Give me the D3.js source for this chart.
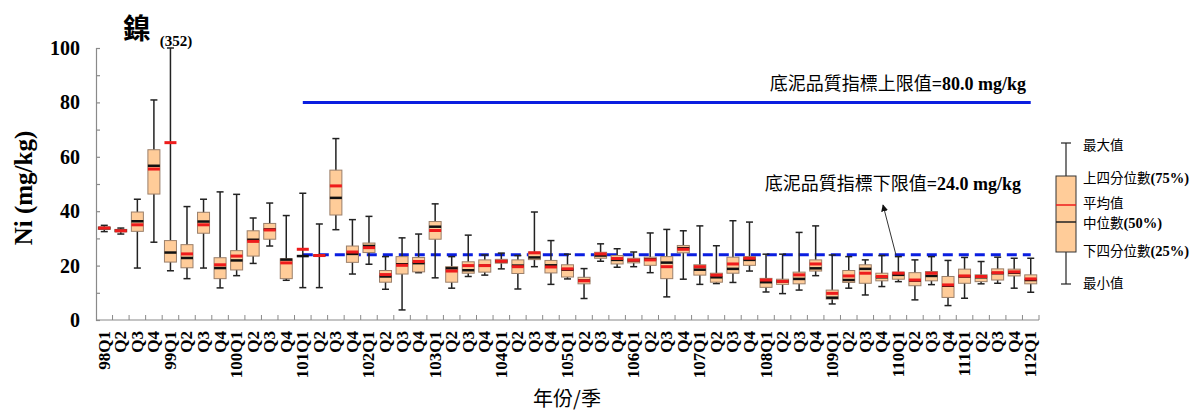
<!DOCTYPE html>
<html><head><meta charset="utf-8">
<script src="https://cdn.jsdelivr.net/npm/d3@7"></script>
<style>
html,body{margin:0;padding:0;background:#fff;}
svg{display:block;}
</style></head>
<body>
<svg id="chart" width="1204" height="413"></svg>
<script>
const quarters = ["98Q1","Q2","Q3","Q4","99Q1","Q2","Q3","Q4","100Q1","Q2","Q3","Q4","101Q1","Q2","Q3","Q4","102Q1","Q2","Q3","Q4","103Q1","Q2","Q3","Q4","104Q1","Q2","Q3","Q4","105Q1","Q2","Q3","Q4","106Q1","Q2","Q3","Q4","107Q1","Q2","Q3","Q4","108Q1","Q2","Q3","Q4","109Q1","Q2","Q3","Q4","110Q1","Q2","Q3","Q4","111Q1","Q2","Q3","Q4","112Q1"];
const mins    = [32.5,31.6,19.1,28.6,18.1,15.2,19.1,11.8,16.3,20.8,27.2,14.6,11.9,11.9,33.2,16.9,20.5,11.3,3.7,17.4,15.5,11.7,16.0,16.5,18.8,11.4,19.6,13.1,15.1,7.9,21.6,19.4,19.6,17.4,8.5,15.0,13.1,13.4,13.8,18.0,10.3,9.7,11.0,16.3,5.9,11.7,9.2,12.3,14.1,7.4,13.0,5.3,8.0,13.3,13.5,11.7,10.2];
const q1s     = [33.3,32.4,32.6,46.3,21.3,19.2,31.9,15.2,18.4,23.5,29.7,15.2,23.3,23.5,38.6,21.2,24.8,13.9,16.9,17.7,29.7,13.9,17.2,17.6,20.9,17.1,22.2,17.3,15.8,13.3,22.7,20.6,21.0,20.1,15.2,24.7,16.5,13.9,17.2,20.1,12.0,13.1,13.3,18.0,7.7,13.8,13.5,14.4,15.0,12.6,14.4,8.3,13.5,14.1,14.7,16.2,13.3];
const medians = [33.8,32.8,36.3,56.7,24.8,22.8,36.2,19.1,21.9,29.5,33.3,22.2,23.5,23.7,44.9,24.3,27.2,16.0,20.5,20.9,34.3,19.0,18.3,20.0,21.6,20.0,23.0,20.1,18.5,14.5,23.7,22.1,21.9,22.3,21.1,26.4,18.5,15.7,18.8,22.1,13.9,14.2,15.1,19.0,8.2,14.7,18.8,15.7,16.6,14.5,16.2,12.6,16.0,15.7,17.2,17.4,14.7];
const q3s     = [34.2,33.3,39.7,62.6,29.2,27.7,39.6,22.9,25.5,32.8,35.5,22.5,23.7,23.9,55.1,27.2,28.3,18.2,23.3,23.0,36.2,19.6,21.4,22.1,22.3,22.1,25.0,21.9,20.3,15.7,24.9,23.7,22.7,23.1,23.3,27.4,20.3,17.2,23.1,23.3,15.3,15.0,17.6,22.1,11.0,18.2,20.3,17.2,17.6,17.4,17.8,16.0,18.7,16.6,18.8,18.7,16.6];
const maxs    = [34.8,33.8,44.4,80.9,352,41.7,44.4,47.1,46.2,37.5,43.0,38.4,46.6,35.3,66.7,36.9,38.1,23.3,30.2,31.6,42.7,23.3,31.2,23.9,24.6,23.7,39.7,29.2,24.2,18.9,28.0,26.2,25.0,32.0,33.3,32.8,34.6,27.3,36.5,36.0,24.2,24.2,32.2,34.6,23.9,23.3,22.1,23.7,23.3,22.1,23.3,21.9,23.0,21.5,23.1,22.7,22.7];
const means   = [33.8,32.8,35.0,55.5,65.2,24.3,35.0,20.3,23.5,28.9,33.1,21.0,26.0,23.7,49.3,25.0,26.6,16.7,20.1,21.5,32.9,18.0,20.0,20.0,21.6,19.6,24.7,19.5,18.8,14.4,24.3,22.6,22.0,22.1,19.6,26.0,19.6,16.5,20.6,22.7,14.7,14.2,16.6,20.6,9.8,16.2,17.2,16.0,17.2,14.7,17.2,12.9,16.2,16.0,17.4,17.7,15.1];
const yTicks = [0,20,40,60,80,100];
const upperLimit = 80.0, lowerLimit = 24.0;
const limitStart = "101Q1";
const legendLabels = ["最大值","上四分位數(75%)","平均值","中位數(50%)","下四分位數(25%)","最小值"];

const svg = d3.select("#chart");
const ids = quarters.map((q,i)=>i);
const x = d3.scaleBand().domain(ids).range([96,1039]).padding(0);
const y = d3.scaleLinear().domain([0,100]).range([320,48]).clamp(true);
const serif = "'Liberation Serif','Times New Roman',serif";
const cjk = "'Noto Sans CJK TC','Noto Sans CJK SC',sans-serif";
const axisColor = "#8a8a8a";
const boxFill = "#FFCC99", boxStroke = "#9a7f6a";

// axes
const yAxis = d3.axisLeft(y).tickValues(d3.range(0,101,10)).tickSize(-4).tickFormat("");
const gy = svg.append("g").attr("transform","translate(96,0)").call(yAxis);
gy.selectAll("path,line").attr("stroke",axisColor).attr("stroke-width",1.2);
svg.append("g").selectAll("text").data(yTicks).join("text")
  .attr("x",80).attr("y",d=>y(d)+7).attr("text-anchor","end")
  .attr("font-family",serif).attr("font-weight","bold").attr("font-size",20)
  .text(d=>d);

const gx = svg.append("g").attr("transform","translate(0,320)");
gx.append("line").attr("x1",96).attr("x2",1039).attr("y1",0).attr("y2",0).attr("stroke",axisColor).attr("stroke-width",1.2);
gx.selectAll("line.t").data(d3.range(1,quarters.length+1)).join("line").attr("class","t")
  .attr("x1",d=>96+d*x.bandwidth()).attr("x2",d=>96+d*x.bandwidth()).attr("y1",0).attr("y2",-5)
  .attr("stroke",axisColor).attr("stroke-width",1);
gx.selectAll("text").data(ids).join("text")
  .attr("transform",d=>`translate(${x(d)+x.bandwidth()/2+5.5},11) rotate(-90)`)
  .attr("text-anchor","end")
  .attr("font-family",serif).attr("font-weight","bold").attr("font-size",17)
  .text(d=>quarters[d]);

// axis titles
svg.append("text").attr("transform","translate(32,188) rotate(-90)").attr("text-anchor","middle")
  .attr("font-family",serif).attr("font-weight","bold").attr("font-size",25).text("Ni (mg/kg)");
svg.append("text").attr("x",567).attr("y",406).attr("text-anchor","middle")
  .attr("font-family",cjk).attr("font-size",20).text("年份/季");
svg.append("text").attr("x",137).attr("y",39).attr("text-anchor","middle")
  .attr("font-family",cjk).attr("font-weight","bold").attr("font-size",28).text("鎳");
svg.append("text").attr("x",176).attr("y",46).attr("text-anchor","middle")
  .attr("font-family",serif).attr("font-weight","bold").attr("font-size",15).text("(352)");

// limit lines
const ls = quarters.indexOf(limitStart);
const lx1 = x(ls)+x.bandwidth()/2, lx2 = x(quarters.length-1)+x.bandwidth()/2;
svg.append("line").attr("x1",lx1).attr("x2",lx2).attr("y1",y(upperLimit)).attr("y2",y(upperLimit))
  .attr("stroke","#0a1ee0").attr("stroke-width",3);
svg.append("line").attr("x1",lx1).attr("x2",lx2).attr("y1",y(lowerLimit)).attr("y2",y(lowerLimit))
  .attr("stroke","#0a1ee0").attr("stroke-width",3).attr("stroke-dasharray","10,6");

function limitText(xr, yb, val){
  const t = svg.append("text").attr("x",xr).attr("y",yb).attr("text-anchor","end").attr("font-size",18);
  t.append("tspan").attr("font-family",cjk).text("底泥品質指標"+(val===upperLimit?"上":"下")+"限值");
  t.append("tspan").attr("font-family",serif).attr("font-weight","bold").text("="+val.toFixed(1)+" mg/kg");
}
limitText(1026, 90, upperLimit);
limitText(1021, 190, lowerLimit);

// arrow
svg.append("defs").append("marker").attr("id","ah").attr("viewBox","0 0 10 10").attr("refX",9).attr("refY",5)
  .attr("markerWidth",7).attr("markerHeight",7).attr("orient","auto")
  .append("path").attr("d","M0,0L10,5L0,10z").attr("fill","#111");
svg.append("line").attr("x1",896).attr("y1",255).attr("x2",883).attr("y2",205)
  .attr("stroke","#333").attr("stroke-width",1).attr("marker-end","url(#ah)");

// boxes
const bw = 12, cw = 7, mw = 12;
const g = svg.append("g").selectAll("g").data(ids).join("g")
  .attr("transform",d=>`translate(${x(d)+x.bandwidth()/2},0)`);
g.append("line").attr("y1",d=>y(maxs[d])).attr("y2",d=>y(mins[d])).attr("stroke","#222").attr("stroke-width",1.5);
g.append("line").attr("x1",-cw/2).attr("x2",cw/2).attr("y1",d=>y(maxs[d])).attr("y2",d=>y(maxs[d])).attr("stroke","#222").attr("stroke-width",1.5);
g.append("line").attr("x1",-cw/2).attr("x2",cw/2).attr("y1",d=>y(mins[d])).attr("y2",d=>y(mins[d])).attr("stroke","#222").attr("stroke-width",1.5);
g.append("rect").attr("x",-bw/2).attr("width",bw).attr("y",d=>y(q3s[d])).attr("height",d=>Math.max(0,y(q1s[d])-y(q3s[d])))
  .attr("fill",boxFill).attr("stroke",boxStroke).attr("stroke-width",1)
  .attr("display",d=>(y(q1s[d])-y(q3s[d]))<2?"none":null);
g.append("line").attr("x1",-mw/2).attr("x2",mw/2).attr("y1",d=>y(medians[d])).attr("y2",d=>y(medians[d])).attr("stroke","#111").attr("stroke-width",2.5);
g.append("line").attr("x1",-mw/2).attr("x2",mw/2).attr("y1",d=>y(means[d])).attr("y2",d=>y(means[d])).attr("stroke","#ee1c1c").attr("stroke-width",3);

// legend
const L = {x0:1056, x1:1076, top:143, q3:176, mean:205, med:222, q1:252, bot:284};
const lc = (L.x0+L.x1)/2;
const lg = svg.append("g");
lg.append("line").attr("x1",lc).attr("x2",lc).attr("y1",L.top).attr("y2",L.bot).attr("stroke","#222").attr("stroke-width",1.2);
lg.append("line").attr("x1",lc-5).attr("x2",lc+5).attr("y1",L.top).attr("y2",L.top).attr("stroke","#222").attr("stroke-width",1.2);
lg.append("line").attr("x1",lc-5).attr("x2",lc+5).attr("y1",L.bot).attr("y2",L.bot).attr("stroke","#222").attr("stroke-width",1.2);
lg.append("rect").attr("x",L.x0).attr("y",L.q3).attr("width",L.x1-L.x0).attr("height",L.q1-L.q3)
  .attr("fill",boxFill).attr("stroke","#333").attr("stroke-width",1);
lg.append("line").attr("x1",L.x0).attr("x2",L.x1).attr("y1",L.mean).attr("y2",L.mean).attr("stroke","#ee1c1c").attr("stroke-width",1.5);
lg.append("line").attr("x1",L.x0).attr("x2",L.x1).attr("y1",L.med).attr("y2",L.med).attr("stroke","#222").attr("stroke-width",1.5);
const ly = [150,183,208,228,256,288];
legendLabels.forEach((s,i)=>{
  const m = s.match(/^([^(]+)(\(.*\))?$/);
  const t = lg.append("text").attr("x",1083).attr("y",ly[i]).attr("font-size",13.5);
  t.append("tspan").attr("font-family",cjk).text(m[1]);
  if(m[2]) t.append("tspan").attr("font-family",serif).attr("font-weight","bold").attr("font-size",14.5).text(m[2]);
});
</script>
</body></html>
